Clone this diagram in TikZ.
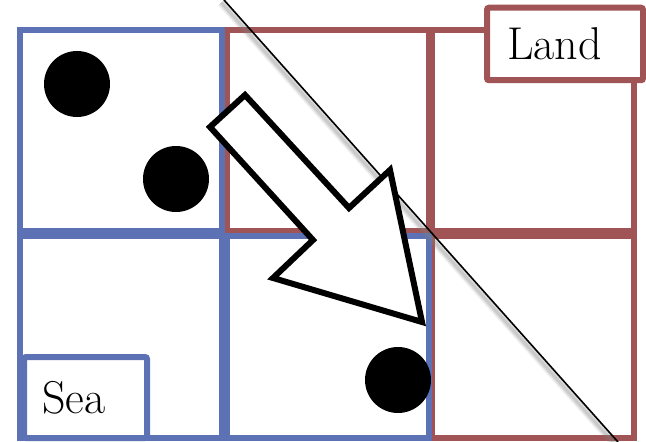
\documentclass[tikz,border=0pt]{standalone}
\usepackage{tikz}
\usetikzlibrary{positioning, calc}
\definecolor{seablue}{RGB}{92,114,180}
\definecolor{landred}{RGB}{160,84,85}
\tikzset{
    seacell/.style={
        rectangle,
        draw=seablue,
        line width=3pt,
        minimum width=101pt,
        minimum height=100.5pt,
        inner sep=0pt,
        outer sep=0pt
    },
    landcell/.style={
        rectangle,
        draw=landred,
        line width=3pt,
        minimum width=101pt,
        minimum height=100.5pt,
        inner sep=0pt,
        outer sep=0pt
    },
    tag/.style={
        rectangle,
        line width=3pt,
        rounded corners=1pt,
        fill=white,
        align=left,
        font=\fontsize{23}{27}\selectfont
    },
    dot/.style={
        circle,
        fill=black,
        minimum size=33pt,
        inner sep=0pt
    },
    coast/.style={
        draw=black,
        line width=0.8pt
    },
    coastshade/.style={
        draw=gray,
        line width=2pt
    },
    blockarrow/.style={
        draw=black,
        line width=3pt,
        fill=white,
        line join=miter
    }
}
\begin{document}
\begin{tikzpicture}[x={(0.5pt,0)}, y={(0,-0.5pt)}]
\useasboundingbox (0,0) rectangle (646,442);

% Grid of cells
\node[landcell] (c12) at (327.5,131) {};
\node[landcell, right=1.5pt of c12] (c13) {};
\node[landcell, below=2.5pt of c13] (c23) {};
\node[seacell] (c11) at (120.5,131) {};
\node[seacell, below=2.5pt of c11] (c21) {};
\node[seacell, right=2.5pt of c21] (c22) {};

% Coast line with soft shadow
\coordinate (north) at (224,0);
\coordinate (south) at (618,442);
\foreach \d/\o in {1.5/0.12, 3/0.2, 4.5/0.2, 6/0.12}
    \draw[coastshade, opacity=\o] ($(north)+(-0.746*\d,0.665*\d)$) -- ($(south)+(-0.746*\d,0.665*\d)$);
\draw[coast] (north) -- (south);

% Tags
\node[tag, draw=landred, text width=58pt, inner xsep=10pt, minimum height=36.25pt] (land) at (565,44) {Land};
\node[tag, draw=seablue, text width=43.5pt, inner xsep=9pt, minimum height=40.5pt] (sea) at (85.5,397.5) {Sea};

% Dots
\node[dot] (d1) at (77,84) {};
\node[dot] (d2) at (176,179) {};
\node[dot] (d3) at (398,380) {};

% Block arrow
\draw[blockarrow] (210,127) -- (245,95) -- (349,208) -- (390,170) -- (422,322) -- (273,278) -- (313,240) -- cycle;

\end{tikzpicture}
\end{document}
